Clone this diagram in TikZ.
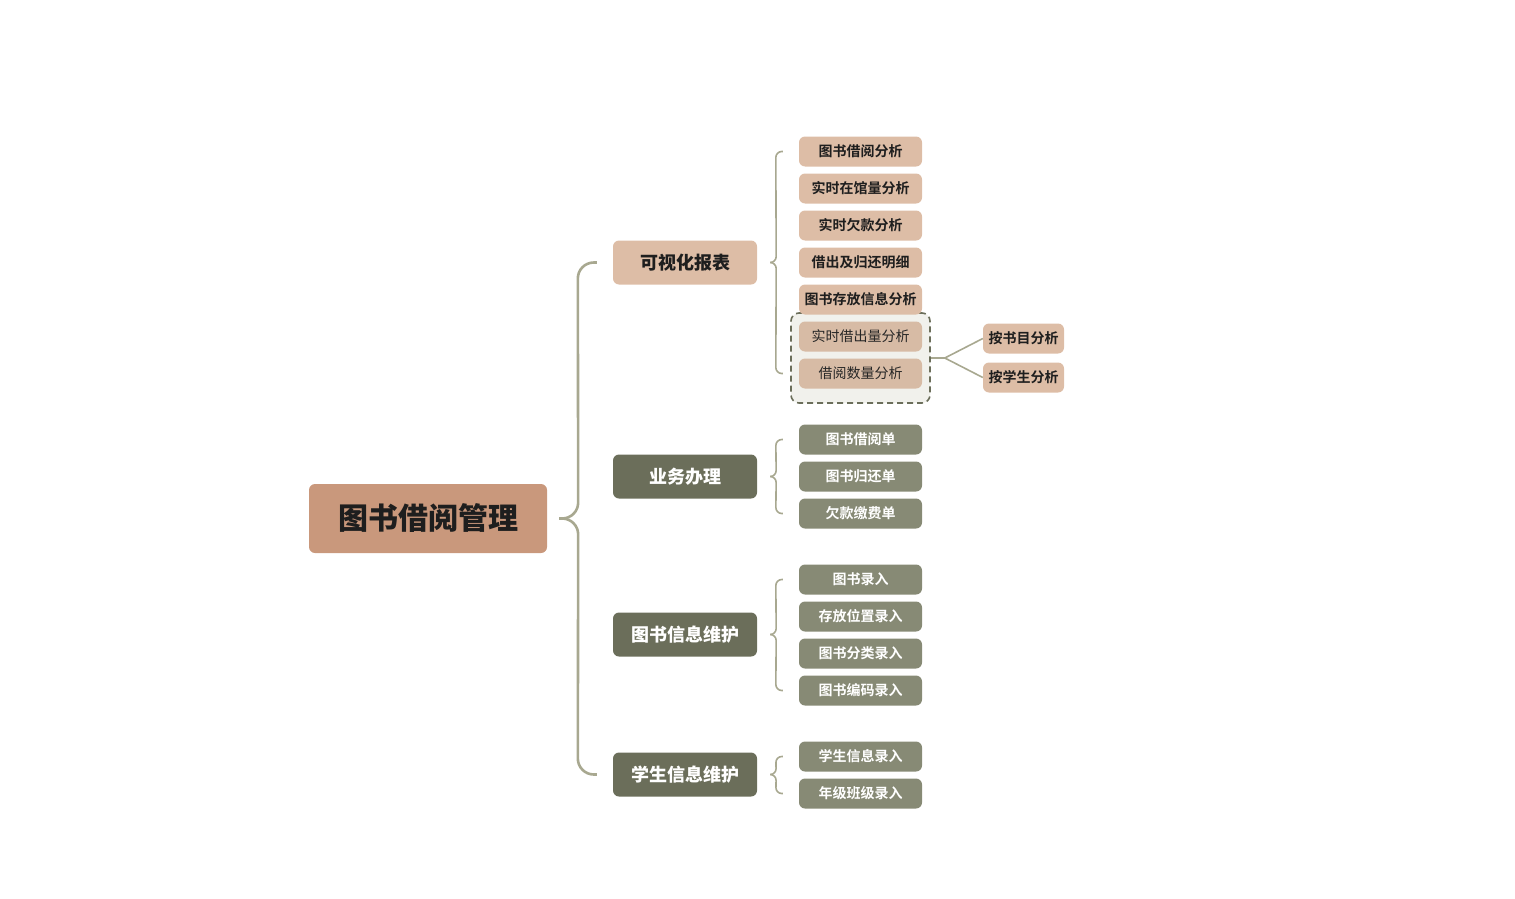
\documentclass[tikz,border=0pt]{standalone}
\usepackage{fontspec}
\setmainfont{Noto Sans CJK SC}[BoldFont={Noto Sans CJK SC Bold}]
\newfontfamily\heavyfont{Noto Sans CJK SC Black}
\usetikzlibrary{calc}
\definecolor{rootc}{HTML}{C9987C}
\definecolor{pinkc}{HTML}{DDBDA6}
\definecolor{pinkd}{HTML}{D7BBA5}
\definecolor{darkg}{HTML}{6B6E5A}
\definecolor{midg}{HTML}{878A75}
\definecolor{linec}{HTML}{A8A890}
\definecolor{boxfill}{HTML}{F1F1EC}
\definecolor{txt}{HTML}{1E1E1E}
\tikzset{
  rootbox/.style={fill=rootc, rounded corners=6pt, minimum width=238pt, minimum height=69pt, inner sep=0pt, text=txt, font=\fontsize{30}{34}\selectfont\heavyfont},
  lonepink/.style={fill=pinkc, rounded corners=6pt, minimum width=144pt, minimum height=44pt, inner sep=0pt, text=txt, font=\fontsize{18}{21}\selectfont\heavyfont},
  lonegreen/.style={fill=darkg, rounded corners=6pt, minimum width=144pt, minimum height=44pt, inner sep=0pt, text=white, font=\fontsize{18}{21}\selectfont\heavyfont},
  ltwopink/.style={fill=pinkc, rounded corners=6pt, minimum width=123pt, minimum height=30pt, inner sep=0pt, text=txt, font=\fontsize{14}{16}\selectfont\bfseries},
  ltwosoft/.style={fill=pinkd, rounded corners=6pt, minimum width=123pt, minimum height=30pt, inner sep=0pt, text=black!85, font=\fontsize{14}{16}\selectfont},
  ltwogreen/.style={fill=midg, rounded corners=6pt, minimum width=123pt, minimum height=30pt, inner sep=0pt, text=white, font=\fontsize{14}{16}\selectfont\bfseries},
  lthree/.style={fill=pinkc, rounded corners=6pt, minimum width=81pt, minimum height=30pt, inner sep=0pt, text=txt, font=\fontsize{14}{16}\selectfont\bfseries},
  grpbox/.style={draw=darkg, fill=boxfill, dashed, dash pattern=on 6pt off 4pt, line width=1.6pt, rounded corners=8pt, minimum width=139pt, minimum height=90pt, inner sep=0pt},
  mainbrace/.style={draw=linec, line width=2.6pt, rounded corners=16pt},
  subbrace/.style={draw=linec, line width=1.6pt, rounded corners=6pt},
  conn/.style={draw=linec, line width=1.6pt},
}
\begin{document}
\begin{tikzpicture}[x=1pt,y=-1pt]
\useasboundingbox (0,0) rectangle (1515,899);
% root
\node[rootbox] (root) at (428,518.5) {图书借阅管理};
% level 1
\node[lonepink] (viz) at (685,262.5) {可视化报表};
\node[lonegreen] (biz) at (685,476.5) {业务办理};
\node[lonegreen] (book) at (685,634.5) {图书信息维护};
\node[lonegreen] (stu) at (685,774.5) {学生信息维护};
% group box
\node[grpbox] (grp) at (860.5,358) {};
% level 2 - viz
\node[ltwopink] (v1) at (860.5,151.5) {图书借阅分析};
\node[ltwopink] (v2) at (860.5,188.5) {实时在馆量分析};
\node[ltwopink] (v3) at (860.5,225.5) {实时欠款分析};
\node[ltwopink] (v4) at (860.5,262.5) {借出及归还明细};
\node[ltwopink] (v5) at (860.5,299.5) {图书存放信息分析};
\node[ltwosoft] (v6) at (860.5,336.5) {实时借出量分析};
\node[ltwosoft] (v7) at (860.5,373.5) {借阅数量分析};
% level 2 - biz
\node[ltwogreen] (b1) at (860.5,439.5) {图书借阅单};
\node[ltwogreen] (b2) at (860.5,476.5) {图书归还单};
\node[ltwogreen] (b3) at (860.5,513.5) {欠款缴费单};
% level 2 - book
\node[ltwogreen] (k1) at (860.5,579.5) {图书录入};
\node[ltwogreen] (k2) at (860.5,616.5) {存放位置录入};
\node[ltwogreen] (k3) at (860.5,653.5) {图书分类录入};
\node[ltwogreen] (k4) at (860.5,690.5) {图书编码录入};
% level 2 - stu
\node[ltwogreen] (s1) at (860.5,756.5) {学生信息录入};
\node[ltwogreen] (s2) at (860.5,793.5) {年级班级录入};
% level 3
\node[lthree] (t1) at (1023.5,338.5) {按书目分析};
\node[lthree] (t2) at (1023.5,377.5) {按学生分析};
% main brace
\coordinate (rtip) at ($(root.east)+(12,0)$);
\path[mainbrace] ($(viz.west)+(-16,0)$) -- ($(viz.west)+(-35,0)$) -- ($(rtip)+(19,0)$) -- (rtip);
\path[mainbrace] (rtip) -- ($(rtip)+(19,0)$) -- ($(stu.west)+(-35,0)$) -- ($(stu.west)+(-16,0)$);
% sub braces
\foreach \pn/\tn/\bn in {viz/v1/v7, biz/b1/b3, book/k1/k4, stu/s1/s2}{
  \coordinate (tip) at ($(\pn.east)+(13,0)$);
  \path[subbrace] ($(\tn.west)+(-16,0)$) -- ($(\tn.west)+(-23,0)$) -- ($(tip)+(6,0)$) -- (tip);
  \path[subbrace] (tip) -- ($(tip)+(6,0)$) -- ($(\bn.west)+(-23,0)$) -- ($(\bn.west)+(-16,0)$);
}
% group to level 3
\coordinate (j) at ($(grp.east)+(14,0)$);
\path[conn] (grp.east) -- (j);
\path[conn] (j) -- (t1.west);
\path[conn] (j) -- (t2.west);
\end{tikzpicture}
\end{document}
